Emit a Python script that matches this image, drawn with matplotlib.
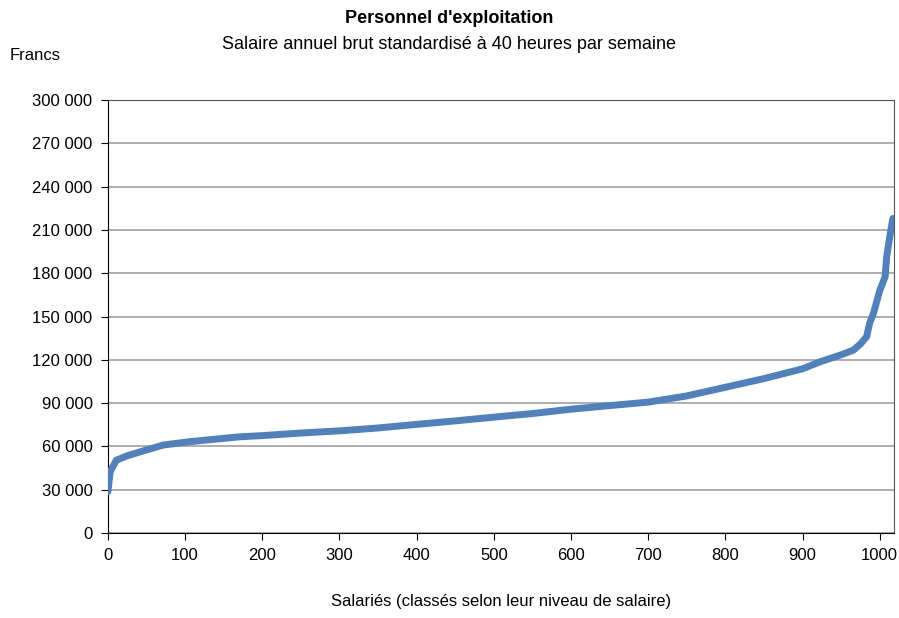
import matplotlib.pyplot as plt
from matplotlib.ticker import FuncFormatter, MultipleLocator

# Rank of employee (sorted by salary) and annual salary in francs
rank = [0, 3, 11, 25, 42, 72, 106, 171, 200, 250, 300, 350, 400, 450, 500, 550,
        600, 650, 700, 750, 800, 850, 900, 923, 950, 966, 975, 983, 987, 992,
        1000, 1007, 1009, 1013, 1017]
salary = [28600, 42500, 50500, 53500, 56300, 61000, 63300, 66700, 67500, 69300,
          70800, 72800, 75300, 77700, 80300, 82800, 85800, 88300, 90700, 95000,
          101000, 107000, 113800, 118700, 123500, 126800, 131000, 136000, 145500,
          152400, 168000, 177600, 191400, 205300, 218000]

plt.rcParams['font.family'] = ['Liberation Sans', 'DejaVu Sans']

fig = plt.figure(figsize=(8.99, 6.18), dpi=100)
ax = fig.add_axes([0.120, 0.1375, 0.874, 0.7005])

ax.plot(rank, salary, color='#4F81BD', linewidth=5, solid_capstyle='round',
        solid_joinstyle='round', zorder=3)

ax.set_xlim(0, 1018)
ax.set_ylim(0, 300000)
ax.xaxis.set_major_locator(MultipleLocator(100))
ax.yaxis.set_major_locator(MultipleLocator(30000))
ax.yaxis.set_major_formatter(FuncFormatter(lambda v, _: f'{int(v):,}'.replace(',', ' ')))

ax.grid(axis='y', color='#a0a0a0', linewidth=1.2)
ax.set_axisbelow(True)
for side in ['top', 'right']:
    ax.spines[side].set_color('#555555')
for side in ['left', 'bottom']:
    ax.spines[side].set_color('black')
ax.tick_params(direction='out', length=5, labelsize=12, pad=6)

ax.set_xlabel('Salariés (classés selon leur niveau de salaire)', fontsize=12, labelpad=22)
fig.text(0.011, 0.91, 'Francs', fontsize=12, ha='left', va='center')
fig.text(0.5, 0.97, "Personnel d'exploitation", fontsize=13, fontweight='bold', ha='center', va='center')
fig.text(0.5, 0.928, 'Salaire annuel brut standardisé à 40 heures par semaine', fontsize=13,
         ha='center', va='center')

fig.savefig('out.png', dpi=100)
